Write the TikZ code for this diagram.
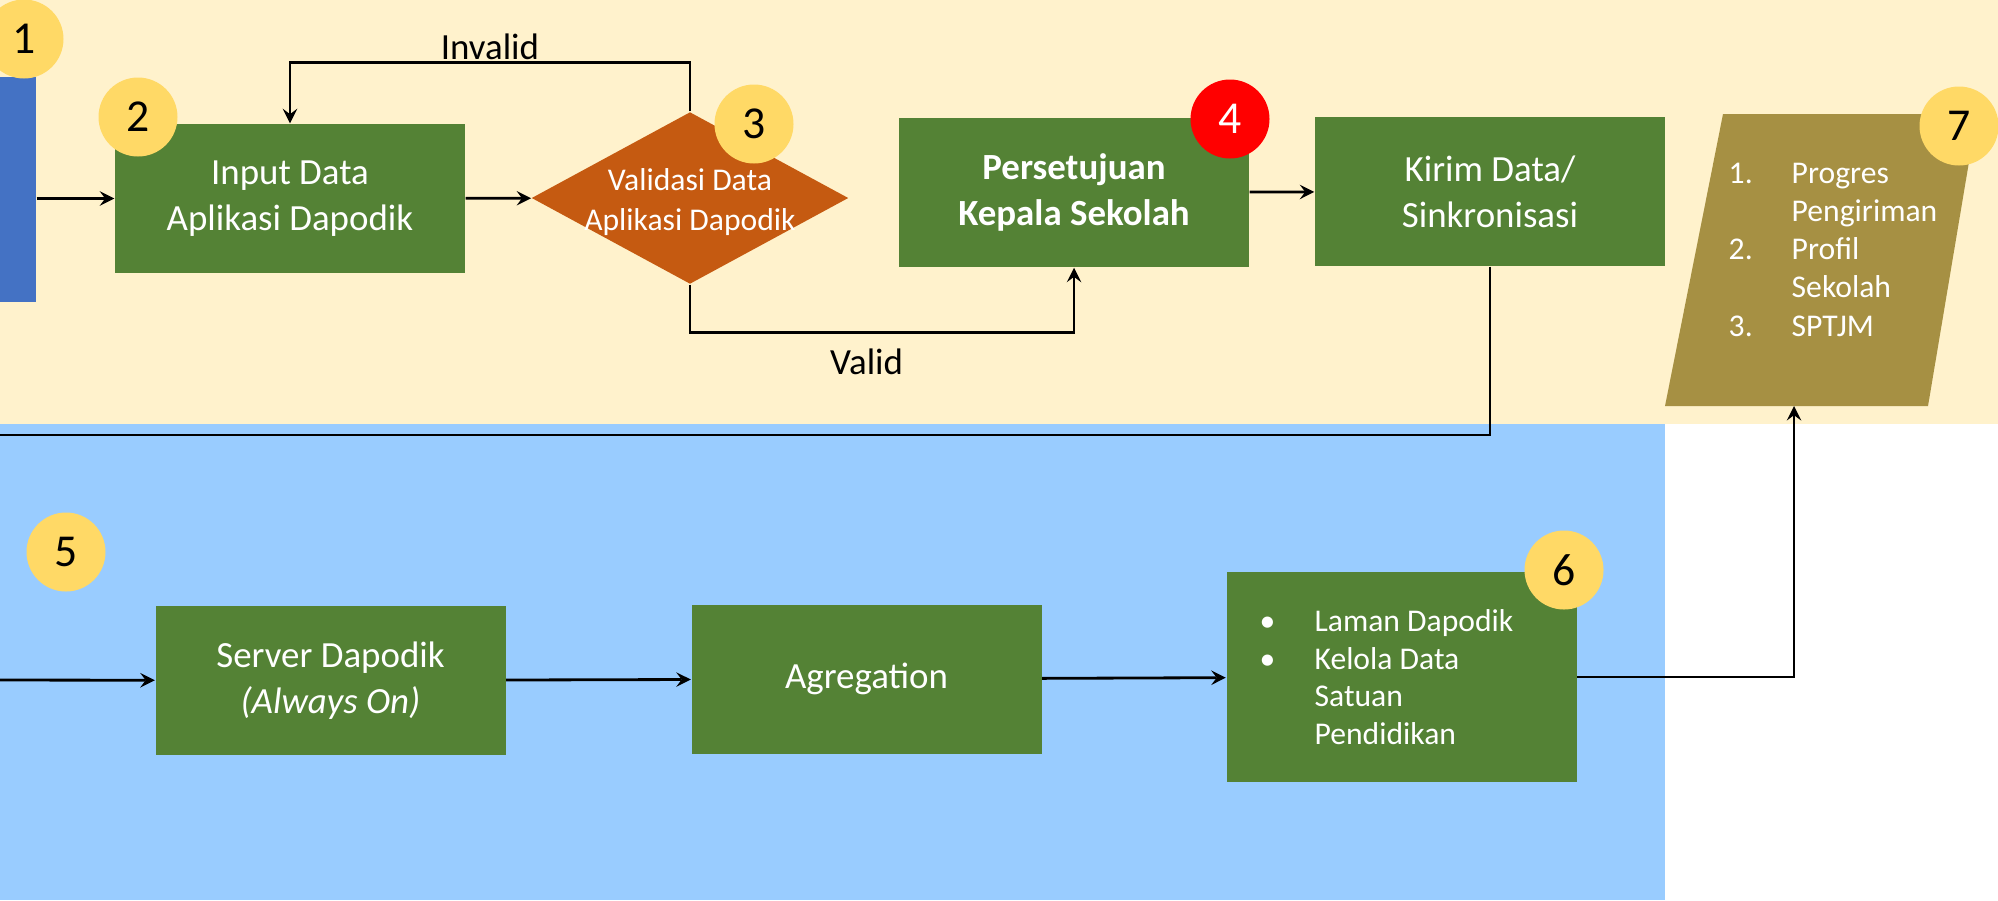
\documentclass[tikz,border=0pt]{standalone}
\usepackage{fontspec}
\setmainfont{Carlito}
\usetikzlibrary{arrows,positioning,calc,shapes.geometric}

\definecolor{latarkuning}{HTML}{FFF2CC}
\definecolor{latarbiru}{HTML}{99CCFF}
\definecolor{birutua}{HTML}{4472C4}
\definecolor{hijau}{HTML}{548235}
\definecolor{oranye}{HTML}{C55A11}
\definecolor{kuning}{HTML}{FFD966}
\definecolor{zaitun}{HTML}{A69043}

\begin{document}
\begin{tikzpicture}[> = stealth, auto]
    \tikzstyle{box}=[rectangle, fill=hijau, text=white, inner sep=0pt, minimum width=3.5cm, minimum height=1.49cm, align=center, font=\fontsize{10.5}{13.1}\selectfont]
    \tikzstyle{badge}=[circle, fill=kuning, inner sep=0pt, minimum size=7.9mm, font=\fontsize{13}{15}\selectfont]
    \tikzstyle{small}=[inner sep=0pt, text=white, font=\fontsize{9}{10.9}\selectfont]
    \tikzstyle{edge}=[thick]

    \useasboundingbox (0,0) rectangle (19.98,-9.00);

    % Latar
    \fill[latarkuning] (0,0) rectangle (19.98,-4.24);
    \fill[latarbiru] (0,-4.24) rectangle (16.65,-9.00);

    % Simpul
    \node[rectangle, fill=birutua, inner sep=0pt, minimum width=3.6mm, minimum height=2.25cm] (bar) at (0.18,-1.895) {};
    \node[box] (input) at (2.90,-1.985) {Input Data\\Aplikasi Dapodik};
    \node[diamond, fill=oranye, inner sep=0pt, minimum width=3.17cm, minimum height=1.72cm] (valid) at (6.90,-1.98) {};
    \node[small, align=center, font=\fontsize{9}{11.4}\selectfont] (validtext) at (6.90,-2.02) {Validasi Data\\Aplikasi Dapodik};
    \node[box, font=\bfseries\fontsize{10.5}{13.1}\selectfont] (approve) at (10.74,-1.925) {Persetujuan\\Kepala Sekolah};
    \node[box] (send) at (14.90,-1.915) {Kirim Data/\\Sinkronisasi};

    \fill[zaitun] (16.65,-4.06) -- (19.28,-4.06) -- (19.77,-1.14) -- (17.23,-1.14) -- cycle;
    \coordinate (reportin) at (17.94,-4.06);
    \node[small, anchor=north west, align=left] (report) at (17.28,-1.62)
        {\makebox[6.3mm][l]{1.}Progres\\\hspace*{6.3mm}Pengiriman\\\makebox[6.3mm][l]{2.}Profil\\\hspace*{6.3mm}Sekolah\\\makebox[6.3mm][l]{3.}SPTJM};

    \node[box] (server) at (3.305,-6.805) {Server Dapodik\\\textit{(Always On)}};
    \node[box] (agg) at (8.665,-6.79) {Agregation};
    \node[box, minimum height=2.10cm, align=left, font=\fontsize{9}{10.7}\selectfont] (portal) at (14.015,-6.77)
        {\makebox[5.5mm][l]{•}Laman Dapodik\hspace*{3mm}\\\makebox[5.5mm][l]{•}Kelola Data\\\hspace*{5.5mm}Satuan\\\hspace*{5.5mm}Pendidikan};

    \coordinate (exitL) at (0,-4.35);
    \coordinate (entryL) at (0,-6.80);

    % Nomor
    \node[badge] (b1) at (0.24,-0.39) {1};
    \node[badge] (b2) at (1.38,-1.17) {2};
    \node[badge] (b3) at (7.54,-1.24) {3};
    \node[badge, fill=red, text=white] (b4) at (12.30,-1.19) {4};
    \node[badge] (b5) at (0.66,-5.52) {5};
    \node[badge] (b6) at (15.64,-5.70) {6};
    \node[badge] (b7) at (19.59,-1.26) {7};

    % Panah
    \draw[->,edge] (input.west -| bar.east) -- (input.west);
    \draw[->,edge] (input) -- (valid);
    \draw[->,edge] (valid.north) -- ++(0,0.49) -| (input.north)
        node[pos=0.25, above=0.01cm, inner sep=0pt, font=\fontsize{10.5}{13}\selectfont] (lblinvalid) {Invalid};
    \draw[->,edge] (valid.south) -- ++(0,-0.48) -| (approve.south)
        node[pos=0.23, below=0.15cm, inner sep=0pt, font=\fontsize{10.5}{13}\selectfont] (lblvalid) {Valid};
    \draw[->,edge] (approve) -- (send);
    \draw[edge] (send.south) |- (exitL);
    \draw[->,edge] (entryL) -- (server);
    \draw[->,edge] (server) -- (agg);
    \draw[->,edge] (agg) -- (portal);
    \draw[->,edge] (portal.east) -| (reportin);
\end{tikzpicture}
\end{document}
